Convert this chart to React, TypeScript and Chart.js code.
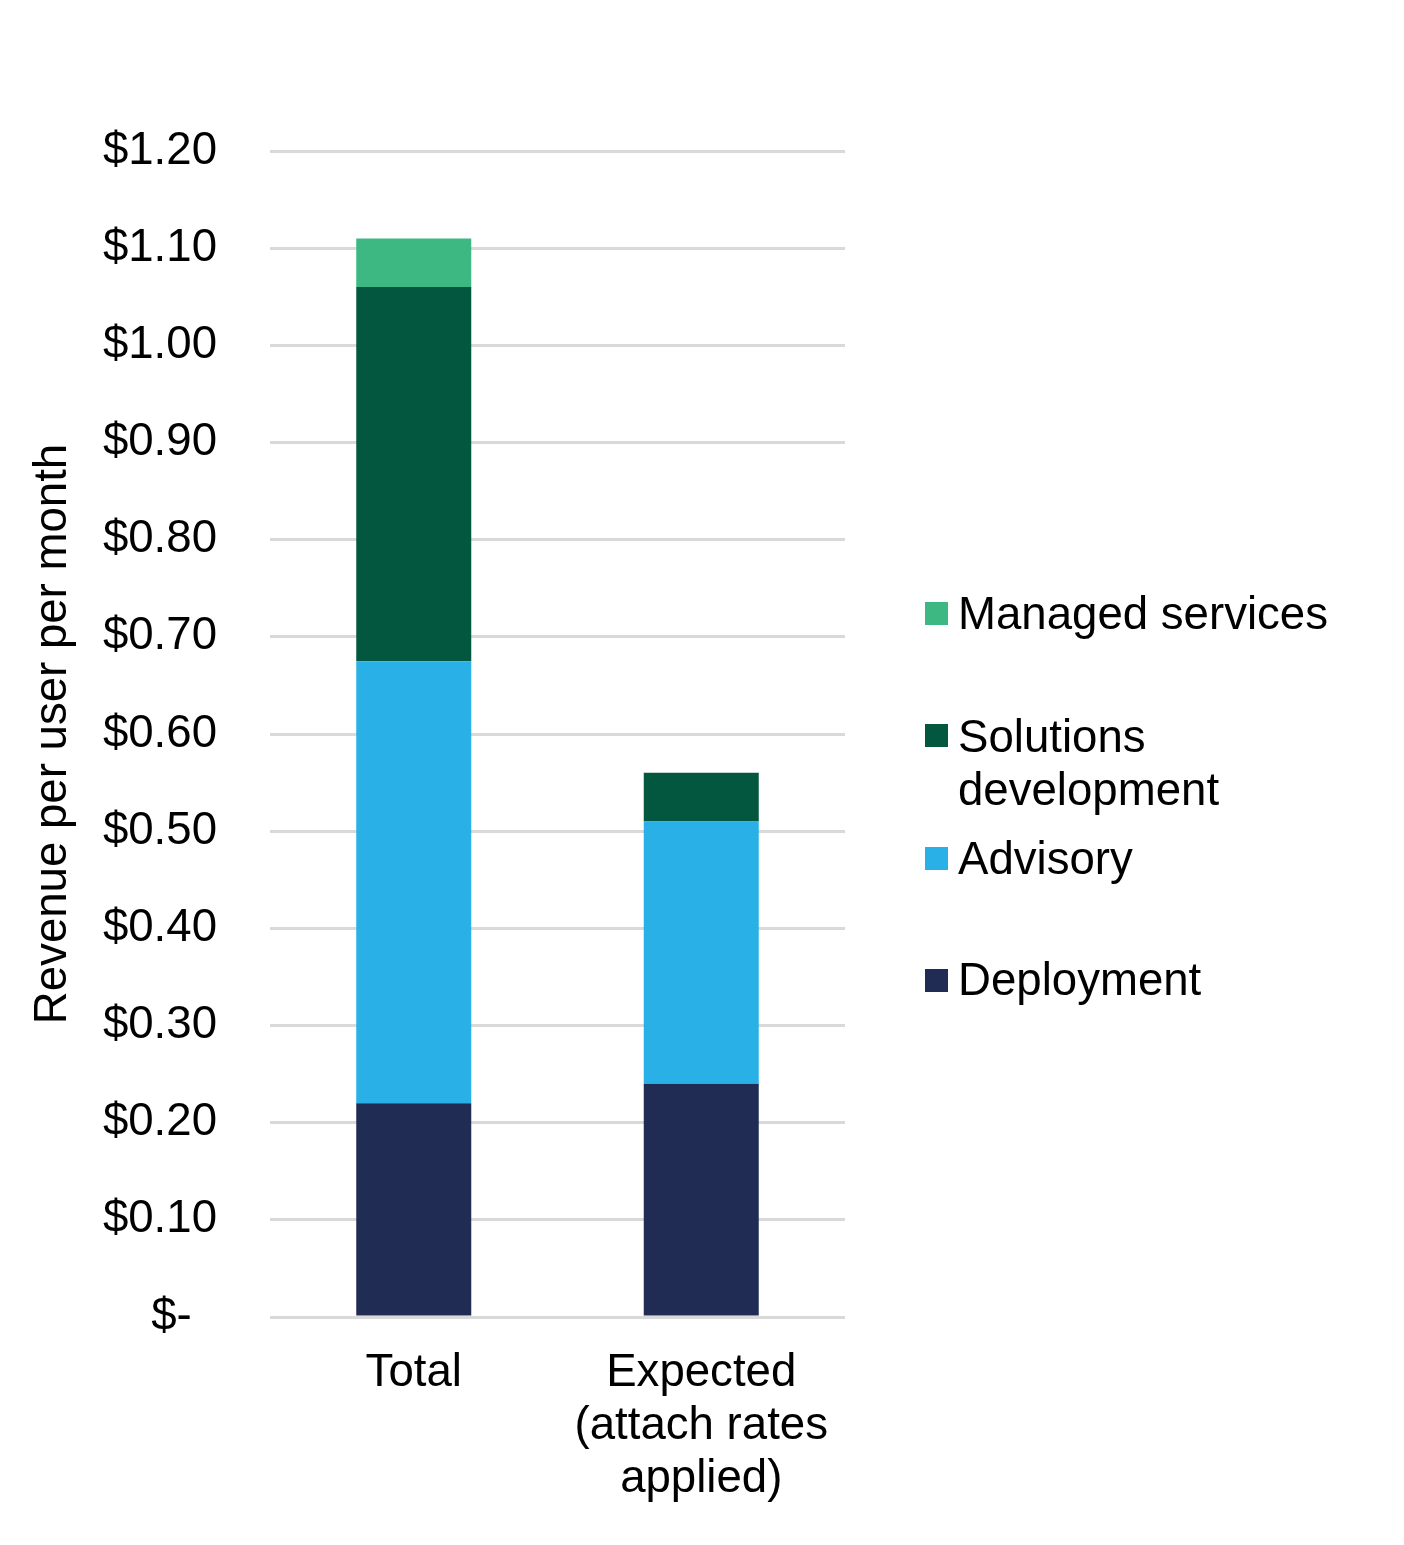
import React, { useEffect, useRef } from "react";
import { Chart, registerables } from "chart.js";

Chart.register(...registerables);

const categories: (string | string[])[] = ["Total", ["Expected", "(attach rates", "applied)"]];
const deployment = [0.22, 0.24];
const advisory = [0.455, 0.27];
const solutions = [0.385, 0.05];
const managed = [0.05, 0];
const yTickLabels = ["$-", "$0.10", "$0.20", "$0.30", "$0.40", "$0.50", "$0.60", "$0.70", "$0.80", "$0.90", "$1.00", "$1.10", "$1.20"];
const yTitle = "Revenue per user per month";

const seriesNames = ["Deployment", "Advisory", "Solutions development", "Managed services"];
const seriesColors = ["#212C54", "#29B0E6", "#03573F", "#3EB882"];

const FONT = "'Liberation Sans', Arial, sans-serif";
const FS = 45.6;

// legend layout (top to bottom: reversed series order)
const legendItems = [
  { idx: 3, lines: ["Managed services"], top: 587, boxTop: 602 },
  { idx: 2, lines: ["Solutions", "development"], top: 710, boxTop: 724 },
  { idx: 1, lines: ["Advisory"], top: 832, boxTop: 847 },
  { idx: 0, lines: ["Deployment"], top: 953, boxTop: 969 },
];

export default function App() {
  const ref = useRef<HTMLCanvasElement>(null);
  useEffect(() => {
    document.body.style.margin = "0";
    const values = [deployment, advisory, solutions, managed];
    const chart = new Chart(ref.current!, {
      type: "bar",
      data: {
        labels: categories,
        datasets: seriesNames.map((n, i) => ({
          label: n,
          data: values[i],
          backgroundColor: seriesColors[i],
          borderWidth: 0,
          barPercentage: 0.4,
          categoryPercentage: 1.0,
        })),
      },
      options: {
        animation: false,
        responsive: true,
        maintainAspectRatio: false,
        layout: { padding: { left: 26, right: 559, top: 151, bottom: 0 } },
        plugins: { legend: { display: false }, tooltip: { enabled: false } },
        scales: {
          x: {
            stacked: true,
            grid: { display: false, drawTicks: false },
            border: { display: false },
            ticks: { color: "#000", padding: 30, font: { family: FONT, size: FS, lineHeight: 1.165 } },
            afterFit: (s: any) => { s.height = 228; },
          },
          y: {
            stacked: true,
            min: 0,
            max: 1.2,
            grid: { color: "#D9D9D9", lineWidth: 3, drawTicks: false },
            border: { display: false },
            ticks: {
              stepSize: 0.1,
              color: "#000",
              padding: 53,
              font: { family: FONT, size: FS },
              callback: (_v: any, i: number) => (i === 0 ? yTickLabels[i] + "  " : yTickLabels[i]),
            },
            title: {
              display: true,
              text: yTitle,
              color: "#000",
              padding: 0,
              font: { family: FONT, size: FS, lineHeight: 1.2 },
            },
            afterFit: (s: any) => { s.width = 244; },
          },
        },
      },
    });
    return () => chart.destroy();
  }, []);

  return (
    <div style={{ position: "relative", width: 1404, height: 1545, background: "#fff" }}>
      <canvas ref={ref} />
      {legendItems.map((it) => (
        <React.Fragment key={it.idx}>
          <div style={{ position: "absolute", left: 925, top: it.boxTop, width: 23, height: 23, background: seriesColors[it.idx] }} />
          <div style={{ position: "absolute", left: 958, top: it.top, fontFamily: FONT, fontSize: FS, lineHeight: "53px", color: "#000", whiteSpace: "nowrap" }}>
            {it.lines.map((l, k) => (<div key={k}>{l}</div>))}
          </div>
        </React.Fragment>
      ))}
    </div>
  );
}
